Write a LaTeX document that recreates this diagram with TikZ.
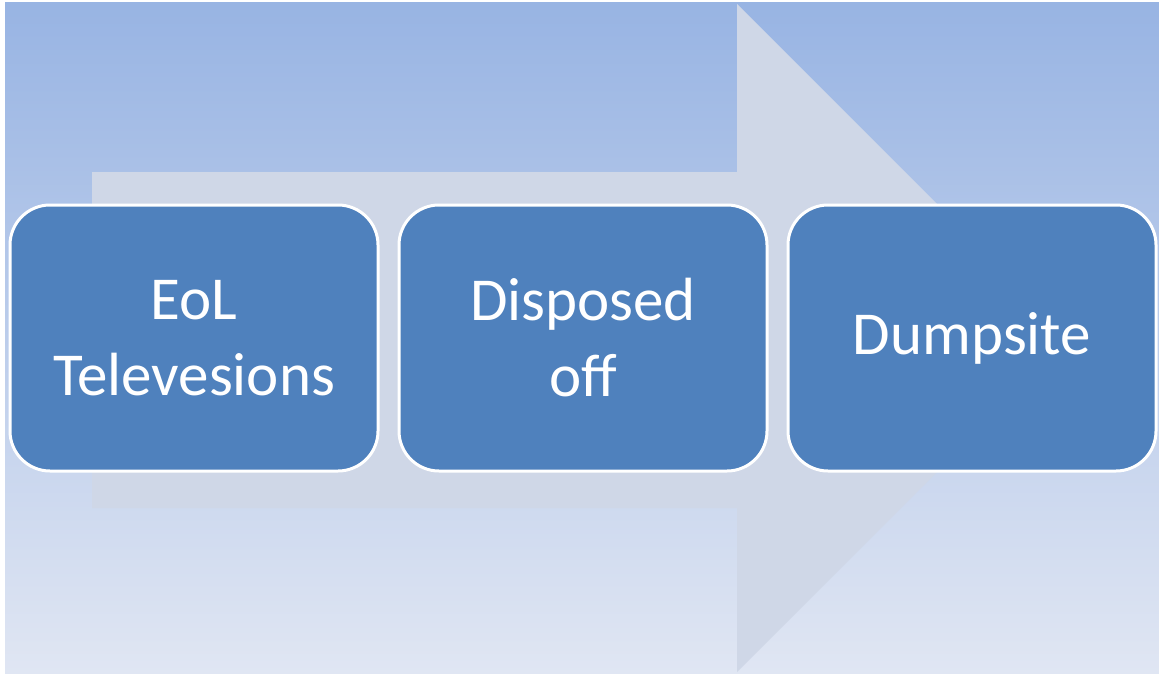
\documentclass[tikz,border=0pt]{standalone}
\usepackage{fontspec}
\setmainfont{Carlito}

\definecolor{bgtop}{HTML}{98B4E3}
\definecolor{bgbot}{HTML}{E0E6F3}
\definecolor{arrowfill}{HTML}{CFD7E7}
\definecolor{stepblue}{HTML}{4F81BD}

\tikzset{
    stepbox/.style={rectangle,rounded corners=40pt,draw=white,line width=3pt,
        fill=stepblue,text=white,minimum width=368pt,minimum height=266pt,
        align=center,font=\fontsize{61}{76}\selectfont},
}

\begin{document}
\begin{tikzpicture}[x=1pt,y=-1pt]
    \useasboundingbox (0,0) rectangle (1159,674);
    \fill[white] (0,0) rectangle (1159,674);
    \shade[top color=bgtop,bottom color=bgbot] (5,3) rectangle (1159,674);

    % big arrow behind the steps
    \fill[arrowfill] (92,172) -- (737,172) -- (737,4) -- (1071,338)
        -- (737,672) -- (737,508) -- (92,508) -- cycle;

    \node[stepbox] (eol) at (194,338) {EoL\\Televesions};
    \node[stepbox] (disposed) at (583,338) {Disposed\\off};
    \node[stepbox] (dump) at (972,338) {Dumpsite};
\end{tikzpicture}
\end{document}
